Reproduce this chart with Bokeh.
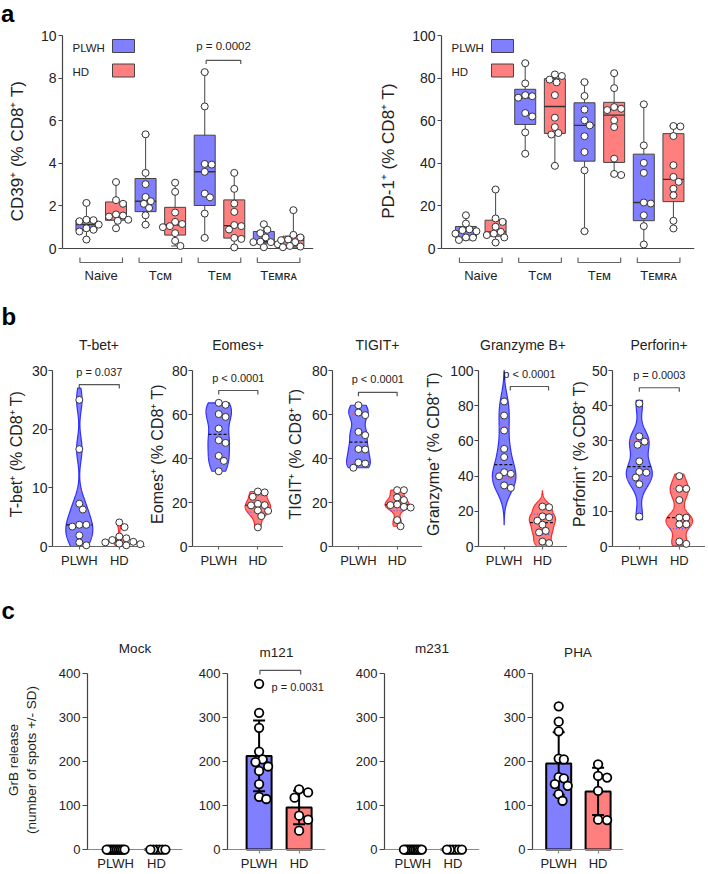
import numpy as np
from bokeh.plotting import figure
from bokeh.layouts import column, row
from bokeh.models import Range1d, FixedTicker, Label, Span, Title, LinearAxis, Div
from bokeh.embed import file_html
from bokeh.resources import INLINE

FONT = "Liberation Sans"
BLUE, RED = "#7f7fff", "#ff7f7f"
BLUE_EDGE, RED_EDGE = "#3030ff", "#ff2a2a"
TXT = "#222222"
AX = "#444444"
SUP = "\u207a"

# ---------------- panel a data ----------------
subsets = ["Naive", "T\u1d04\u1d0d", "T\u1d07\u1d0d", "T\u1d07\u1d0d\u0280\u1d00"]
groups = ["PLWH", "HD"]

cd39_plwh = [
    [2.14, 1.35, 1.33, 1.28, 1.12, 0.95, 0.88, 0.80, 0.42],
    [5.36, 3.55, 3.02, 2.42, 2.22, 2.10, 1.90, 1.56, 1.12],
    [8.28, 6.67, 3.97, 3.94, 3.60, 2.58, 2.40, 1.64, 0.50],
    [1.14, 0.88, 0.72, 0.52, 0.32, 0.30, 0.30, 0.20, 0.06],
]
cd39_hd = [
    [3.12, 2.27, 2.10, 1.60, 1.55, 1.50, 1.35, 1.30, 0.95],
    [3.09, 2.66, 1.69, 1.25, 1.15, 1.05, 1.00, 0.72, 0.36, 0.12],
    [3.55, 2.80, 2.11, 1.72, 1.10, 1.05, 0.89, 0.50, 0.45, 0.05],
    [1.80, 0.64, 0.52, 0.42, 0.39, 0.30, 0.12, 0.09, 0.06],
]
pd1_plwh = [
    [15.6, 11.7, 9.0, 8.6, 8.1, 7.0, 5.2, 5.1, 4.0],
    [87.0, 77.5, 72.0, 71.5, 70.8, 63.6, 62.0, 54.5, 44.5],
    [78.1, 71.6, 65.2, 60.2, 57.8, 52.7, 45.3, 36.7, 8.1],
    [67.7, 48.4, 40.2, 35.5, 21.6, 21.1, 15.6, 10.5, 1.9],
]
pd1_hd = [
    [27.7, 14.1, 12.5, 10.2, 7.8, 7.0, 6.3, 5.2, 2.8],
    [81.7, 81.0, 79.3, 78.0, 72.0, 61.4, 57.0, 54.2, 53.5, 38.8],
    [82.3, 75.3, 66.4, 65.6, 65.0, 60.2, 57.0, 42.2, 35.0, 34.5],
    [57.5, 57.3, 52.8, 39.1, 33.6, 31.3, 28.1, 25.0, 13.0, 9.4],
]
cd39_ticks = [0, 2, 4, 6, 8, 10]
pd1_ticks = [0, 20, 40, 60, 80, 100]
cd39_ylabel = "CD39" + SUP + " (% CD8" + SUP + " T)"
pd1_ylabel = "PD-1" + SUP + " (% CD8" + SUP + " T)"
cd39_p_text = ["p = 0.0002"]
cd39_p_x0 = [5.05]
cd39_p_x1 = [6.22]
cd39_p_y = [8.83]

# ---------------- panel b data ----------------
b_titles = ["T-bet+", "Eomes+", "TIGIT+", "Granzyme B+", "Perforin+"]
b_ylabels = [n + SUP + " (% CD8" + SUP + " T)" for n in ["T-bet", "Eomes", "TIGIT", "Granzyme", "Perforin"]]
b_tops = [30, 80, 80, 100, 50]
b_steps = [10, 20, 20, 20, 10]
tbet_plwh = [25.0, 16.6, 7.3, 6.3, 3.7, 3.7, 3.4, 1.9, 0.7, 0.2]
tbet_hd = [4.1, 3.3, 1.7, 1.4, 1.1, 0.8, 0.7, 0.5, 0.4, 0.2]
eomes_plwh = [65.3, 64.4, 60.2, 58.9, 53.6, 48.3, 47.1, 41.2, 38.9, 34.2]
eomes_hd = [25.0, 24.6, 22.6, 19.4, 18.8, 18.7, 16.4, 16.2, 13.8, 8.7]
tigit_plwh = [64.2, 60.9, 59.7, 52.1, 50.6, 44.3, 44.1, 38.2, 37.7, 35.8]
tigit_hd = [25.6, 25.6, 22.3, 21.1, 19.1, 18.8, 18.0, 17.7, 12.0, 9.2]
gzmb_plwh = [82.4, 74.4, 65.9, 55.5, 50.8, 42.2, 41.3, 39.9, 34.7, 33.3]
gzmb_hd = [22.7, 22.3, 17.1, 16.6, 14.7, 12.4, 8.9, 8.0, 2.8, 1.9]
perf_plwh = [40.6, 31.3, 29.8, 28.9, 24.2, 21.2, 21.0, 19.6, 17.7, 8.5]
perf_hd = [20.0, 16.4, 16.4, 13.2, 8.2, 8.2, 6.3, 6.3, 1.4, 0.75]
b_p_text = ["p = 0.037", "p < 0.0001", "p < 0.0001", "p < 0.0001", "p = 0.0003"]
b_p_y = [27.6, 70.9, 70.1, 90.9, 45.1]
b_p_x0 = [1.0, 1.0, 1.0, 1.16, 1.0]
b_p_x1 = [2.0, 2.0, 2.0, 2.16, 2.0]

# ---------------- panel c data ----------------
c_titles = ["Mock", "m121", "m231", "PHA"]
grb_mock_plwh = [0, 0, 0, 0, 0, 0, 0, 0, 0, 0, 0]
grb_mock_hd = [0, 0, 0, 0, 0, 0]
grb_m121_plwh = [377, 311, 277, 223, 205, 199, 189, 179, 149, 120, 115]
grb_m121_hd = [137, 130, 118, 77, 68, 43]
grb_m231_plwh = [0, 0, 0, 0, 0, 0, 0, 0, 0, 0, 0]
grb_m231_hd = [0, 0, 0, 0, 0, 0]
grb_pha_plwh = [326, 291, 269, 207, 205, 165, 162, 149, 145, 126, 111]
grb_pha_hd = [194, 167.5, 163.8, 133.6, 68, 67]
c_ticks = [0, 100, 200, 300, 400]
c_ylabel = "GrB release\n(number of spots +/- SD)"
c_p_text = "p = 0.0031"
c_p_x0, c_p_x1, c_p_y = 1.02, 2.04, 407.5
c_p_tx, c_p_ty = 1.31, 369


# ---------------- helpers ----------------
def make_fig(w, h, lb, rb, tb, bb, xr, yr):
    p = figure(width=w, height=h, x_range=Range1d(*xr), y_range=Range1d(*yr),
               output_backend="svg", toolbar_location=None,
               min_border_left=lb, min_border_right=rb,
               min_border_top=tb, min_border_bottom=bb)
    p.xgrid.visible = False
    p.ygrid.visible = False
    p.outline_line_color = None
    p.border_fill_color = None
    fw, fh = w - lb - rb, h - tb - bb
    g = dict(fw=fw, fh=fh, xr=xr, yr=yr,
             ppx=fw / (xr[1] - xr[0]), ppy=fh / (yr[1] - yr[0]))
    for ax in list(p.xaxis) + list(p.yaxis):
        ax.axis_line_color = AX
        ax.axis_line_width = 1.2
        ax.major_tick_line_color = AX
        ax.major_tick_line_width = 1.2
        ax.major_tick_in = 0
        ax.major_tick_out = 4
        ax.minor_tick_line_color = None
        ax.major_label_text_font = FONT
        ax.major_label_text_color = TXT
        ax.major_label_standoff = 2
        ax.axis_label_text_font = FONT
        ax.axis_label_text_font_style = "normal"
        ax.axis_label_text_color = TXT
    return p, g


def set_title(p, text, size, align="center", offset=0, standoff=8, bold=False, color=TXT):
    t = p.title
    t.text = text
    t.text_font = FONT
    t.text_font_size = f"{size}px"
    t.text_font_style = "bold" if bold else "normal"
    t.text_color = color
    t.align = align
    t.offset = offset
    t.standoff = standoff


def add_subtitle(p, text, size, standoff):
    p.add_layout(Title(text=text, align="center", standoff=standoff, text_font=FONT,
                       text_font_size=f"{size}px", text_font_style="normal",
                       text_color=TXT), "above")


def px2x(g, px):
    return g["xr"][0] + px / g["ppx"]


def py2y(g, py):
    return g["yr"][1] - py / g["ppy"]


def add_label(p, x, y, text, size, align="center", baseline="middle", color=TXT):
    p.add_layout(Label(x=x, y=y, text=text, text_font=FONT,
                       text_font_size=f"{size}px", text_align=align,
                       text_baseline=baseline, text_color=color))


def bracket(p, g, x0, x1, y, tick_px, color="#555555", width=1.2):
    dy = tick_px / g["ppy"]
    p.line([x0, x0, x1, x1], [y + dy, y, y, y + dy], line_color=color, line_width=width)


def swarm(vals, ppx, ppy, diam, maxhalf=None):
    v = np.asarray(vals, float)
    order = np.argsort(-v, kind="stable")
    placed = []
    offs = np.zeros(len(v))
    step = diam * 0.25
    lim = (diam * 0.92) ** 2
    for i in order:
        y = v[i] * ppy
        chosen = None
        k = 0
        while chosen is None:
            cands = [0.0] if k == 0 else [k * step, -k * step]
            for c in cands:
                if all((c - ox) ** 2 + (y - oy) ** 2 >= lim for ox, oy in placed):
                    chosen = c
                    break
            k += 1
        offs[i] = chosen
        placed.append((chosen, y))
    m = np.abs(offs).max()
    if maxhalf is not None and m > maxhalf:
        offs = offs * maxhalf / m
    return offs / ppx


def style_y(p, ticks, label, lab_size, tick_size, standoff):
    ya = p.yaxis[0]
    ya.ticker = FixedTicker(ticks=ticks)
    ya.bounds = (0, ticks[-1])
    ya.axis_label = label
    ya.axis_label_text_font_size = f"{lab_size}px"
    ya.major_label_text_font_size = f"{tick_size}px"
    ya.axis_label_standoff = standoff


def group_axes(p, line_color, label_standoff):
    # labels on the frame-edge axis, line and ticks on an axis fixed at y = 0
    xa = p.xaxis[0]
    xa.ticker = FixedTicker(ticks=[1, 2])
    xa.major_label_overrides = {1: groups[0], 2: groups[1]}
    xa.axis_line_color = None
    xa.major_tick_line_color = None
    xa.major_tick_out = 0
    xa.major_label_standoff = label_standoff
    xa.major_label_text_font_size = "13px"
    base = LinearAxis(fixed_location=0, ticker=FixedTicker(ticks=[1, 2]),
                      axis_line_color=line_color, axis_line_width=1.2,
                      major_tick_line_color=line_color, major_tick_line_width=1.2,
                      major_tick_in=0, major_tick_out=4, minor_tick_line_color=None,
                      major_label_text_color=None)
    p.add_layout(base, "below")


# ---------------- panel a ----------------
A_HEAD = 22


def box_panel(w, lb, rb, xr, yr, ticks, ylab, plwh, hd, ptxt, px0, px1, py):
    p, g = make_fig(w, 291 - A_HEAD, lb, rb, 35 - A_HEAD, 25, xr, yr)
    ppx, ppy = g["ppx"], g["ppy"]
    p.add_layout(Span(location=0, dimension="width", line_color=AX, line_width=1.2,
                      level="underlay"))
    for i in range(4):
        for k, (vals, col) in enumerate(((plwh[i], BLUE), (hd[i], RED))):
            x = 2 * i + k + 1
            v = np.asarray(vals, float)
            q1, md, q3 = np.percentile(v, [25, 50, 75], method="weibull")
            lo, hi = v.min(), v.max()
            cw = 4 / ppx
            p.segment([x, x - cw, x - cw], [lo, lo, hi], [x, x + cw, x + cw], [hi, lo, hi],
                      line_color="#555555", line_width=1.1)
            p.vbar(x=[x], bottom=[q1], top=[q3], width=21 / ppx, fill_color=col,
                   line_color="#444444", line_width=1)
            hw = 10.5 / ppx
            p.segment([x - hw], [md], [x + hw], [md], line_color="#333333", line_width=1.4)
            off = swarm(v, ppx, ppy, 7)
            p.scatter(x + off, v, size=7, marker="circle", fill_color="white",
                      line_color="#333333", line_width=1)
        gx0 = 2 * i + 1 - 6.5 / ppx
        gx1 = 2 * i + 2 + 6.5 / ppx
        bracket(p, g, gx0, gx1, -14 / ppy, 5, color="#666666", width=1.2)
    for t, a, b, y in zip(ptxt, px0, px1, py):
        bracket(p, g, a, b, y, -3.5)
        add_label(p, (a + b) / 2, y + 14 / ppy, t, 11.5)
    # legend
    for k, (name, col) in enumerate(zip(groups, [BLUE, RED])):
        add_label(p, px2x(g, 10), py2y(g, 12 + 24 * k), name, 11.5, align="left")
        p.rect(x=[px2x(g, 61)], y=[py2y(g, 10.5 + 24.5 * k)], width=22 / ppx, height=13 / ppy,
               fill_color=col, line_color="#444444", line_width=1)
    style_y(p, ticks, ylab, 17, 14, 11)
    p.yaxis[0].major_label_standoff = 2
    xa = p.xaxis[0]
    xa.ticker = FixedTicker(ticks=[1.5, 3.5, 5.5, 7.5])
    xa.major_label_overrides = {1.5: subsets[0], 3.5: subsets[1], 5.5: subsets[2], 7.5: subsets[3]}
    xa.axis_line_color = None
    xa.major_tick_line_color = None
    xa.major_tick_out = 0
    xa.major_label_text_font_size = "13px"
    xa.major_label_standoff = 1
    return p


a1 = box_panel(354, 62, 41, (0.19, 8.68), (-0.845, 10.0), cd39_ticks, cd39_ylabel,
               cd39_plwh, cd39_hd, cd39_p_text, cd39_p_x0, cd39_p_x1, cd39_p_y)
a2 = box_panel(352, 87, 12, (0.176, 8.71), (-8.45, 100.0), pd1_ticks, pd1_ylabel,
               pd1_plwh, pd1_hd, [], [], [], [])
a_head = Div(text="a", width=706, height=A_HEAD, margin=(0, 0, 0, 0),
             styles={"font-family": FONT, "font-size": "24px", "font-weight": "bold",
                     "line-height": "27px", "color": "black", "padding": "0px",
                     "padding-left": "1px", "overflow": "visible"})

# ---------------- panel b ----------------
b_plwh = [tbet_plwh, eomes_plwh, tigit_plwh, gzmb_plwh, perf_plwh]
b_hd = [tbet_hd, eomes_hd, tigit_hd, gzmb_hd, perf_hd]
b_bw = [[2.0, 4.5, 3.5, 7.0, 3.0], [0.5, 2.5, 2.0, 3.0, 2.0]]
b_cut = [1.0, 0.0, 0.0, 3.0, 0.3]
b_half = [[13.5, 13, 12.3, 12.3, 13], [5.5, 13, 12.5, 13.7, 13.3]]
b_geom = [(145, 52, 0, 4), (138, 45, 0, 3), (139, 46, 0, 5), (145, 52, 0, 5), (138, 45, 0, 1)]


def violin_panel(i, letter=None):
    w, lb, rb, so = b_geom[i]
    top = b_tops[i]
    ppu = 176.0 / top
    yr = (-3 / ppu, top + 12 / ppu)
    fw = w - lb - rb
    xr = (0.33, 0.33 + fw / 40.0)
    p, g = make_fig(w, 287, lb, rb, 67, 29, xr, yr)
    ppx, ppy = g["ppx"], g["ppy"]
    for k, vals in enumerate((b_plwh[i], b_hd[i])):
        v = np.asarray(vals, float)
        bw = b_bw[k][i]
        lo = max(v.min() - b_cut[i] * bw, 0.0)
        hi = min(v.max() + b_cut[i] * bw, top)
        grid = np.linspace(lo, hi, 260)
        d = np.exp(-0.5 * ((grid[:, None] - v[None, :]) / bw) ** 2).sum(1)
        half = d / d.max() * b_half[k][i] / ppx
        x = k + 1
        fill, edge, qcol = (BLUE, BLUE_EDGE, "#ff4d6a") if k == 0 else (RED, RED_EDGE, "#5b5bff")
        p.patch(np.r_[x + half, (x - half)[::-1]], np.r_[grid, grid[::-1]],
                fill_color=fill, line_color=edge, line_width=1.2)
        q1, md, q3 = np.percentile(v, [25, 50, 75], method="weibull")
        for q, dash, c in ((q1, "1 2", qcol), (q3, "1 2", qcol), (md, "3 2", "#111111")):
            h = float(np.interp(q, grid, half))
            p.segment([x - h], [q], [x + h], [q], line_color=c, line_dash=dash, line_width=1.2)
        off = swarm(v, ppx, ppy, 7)
        p.scatter(x + off, v, size=7, marker="circle", fill_color="white",
                  line_color="#333333", line_width=1, level="overlay")
    bracket(p, g, b_p_x0[i], b_p_x1[i], b_p_y[i], -4)
    add_label(p, (b_p_x0[i] + b_p_x1[i]) / 2, b_p_y[i] + 13 / ppy, b_p_text[i], 11)
    if letter:
        # outermost title = panel letter, inner added title = subplot title
        set_title(p, letter, 24, align="left", offset=-(lb - 1), standoff=0, bold=True,
                  color="black")
        add_subtitle(p, b_titles[i], 14, 11)
    else:
        set_title(p, b_titles[i], 14, standoff=11)
    style_y(p, list(range(0, top + 1, b_steps[i])), b_ylabels[i], 16, 14, so)
    p.yaxis[0].major_label_standoff = 1
    group_axes(p, "#666666", 3)
    return p


b_figs = [violin_panel(i, "b" if i == 0 else None) for i in range(5)]

# ---------------- panel c ----------------
c_plwh = [grb_mock_plwh, grb_m121_plwh, grb_m231_plwh, grb_pha_plwh]
c_hd = [grb_mock_hd, grb_m121_hd, grb_m231_hd, grb_pha_hd]
c_geom = [(190, 87, 8), (160, 37, 25), (150, 34, 21), (206, 32, 83)]
c_xr = [(0.31, 2.64), (0.21, 2.66), (0.29, 2.665), (0.335, 2.645)]
c_title_so = [19, 11, 19, 11]


def bar_panel(i, letter=None):
    w, lb, rb = c_geom[i]
    p, g = make_fig(w, 295, lb, rb, 87, 18, c_xr[i], (-11.3, 418.8))
    ppx, ppy = g["ppx"], g["ppy"]
    for k, (vals, col) in enumerate(((c_plwh[i], BLUE), (c_hd[i], RED))):
        v = np.asarray(vals, float)
        m = v.mean()
        sd = v.std(ddof=1)
        x = k + 1
        p.vbar(x=[x], bottom=[0], top=[m], width=25 / ppx, fill_color=col,
               line_color="black", line_width=2)
        cw = 6 / ppx
        p.segment([x, x - cw, x - cw], [m - sd, m - sd, m + sd], [x, x + cw, x + cw],
                  [m + sd, m - sd, m + sd], line_color="black", line_width=2)
        off = swarm(v, ppx, ppy, 10, maxhalf=9)
        p.scatter(x + off, v, size=8.5, marker="circle", fill_color="white",
                  line_color="black", line_width=1.8, level="overlay")
    if i == 1:
        bracket(p, g, c_p_x0, c_p_x1, c_p_y, -4)
        add_label(p, c_p_tx, c_p_ty, c_p_text, 11, align="left")
    if letter:
        set_title(p, letter, 24, align="left", offset=-(lb - 1), standoff=11, bold=True,
                  color="black")
        add_subtitle(p, c_titles[i], 13.5, c_title_so[i])
    else:
        set_title(p, c_titles[i], 13.5, standoff=c_title_so[i])
    style_y(p, c_ticks, c_ylabel if i == 0 else None, 13.5, 13, 17)
    p.yaxis[0].major_tick_out = 5
    group_axes(p, "#888888", 1)
    return p


c_figs = [bar_panel(i, "c" if i == 0 else None) for i in range(4)]

layout = column(a_head, row(a1, a2), row(*b_figs), row(*c_figs))
open("out.html", "w").write(file_html(layout, INLINE))
